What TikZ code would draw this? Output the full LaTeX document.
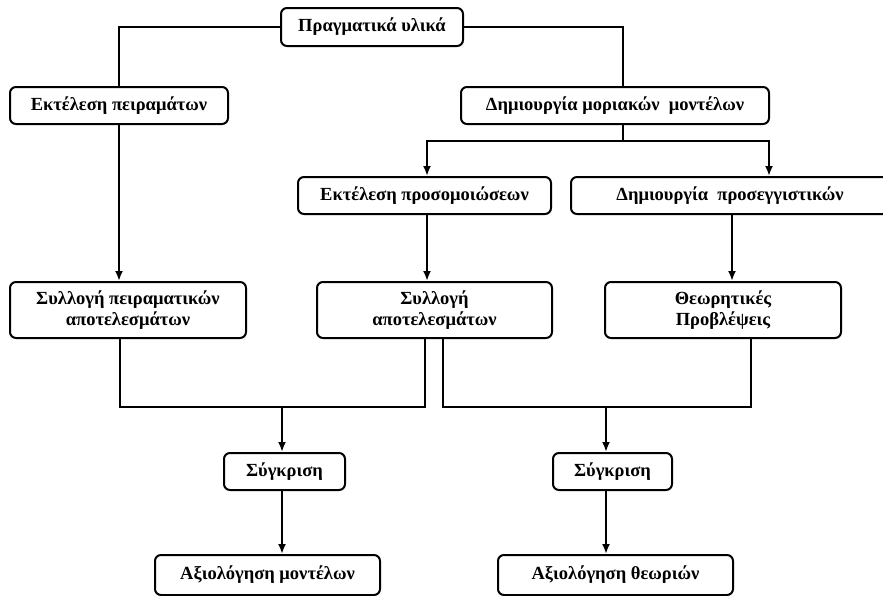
\documentclass[tikz,border=0pt]{standalone}
\usepackage{fontspec}
\setmainfont{Liberation Serif}
\usetikzlibrary{arrows.meta}
\begin{document}
\begin{tikzpicture}[x=1pt,y=-1pt,
  box/.style={draw,line width=2pt,rounded corners=6pt,align=center,inner sep=0pt,
    font=\fontsize{18.5}{21}\selectfont\bfseries},
  conn/.style={line width=2pt},
  arr/.style={line width=2pt,-{Latex[length=10pt,width=8pt]}}]
\useasboundingbox (0,0) rectangle (883,595);
\node[box,minimum width=182pt,minimum height=38pt] (prag) at (372,27) {Πραγματικά υλικά};
\node[box,minimum width=218pt,minimum height=37pt] (ekt) at (119,105.5) {Εκτέλεση πειραμάτων};
\node[box,minimum width=308pt,minimum height=37pt] (dim) at (615,105.5) {Δημιουργία μοριακών~ μοντέλων};
\node[box,minimum width=253pt,minimum height=37pt] (sim) at (424.5,195.5) {Εκτέλεση προσομοιώσεων};
\node[box,minimum width=318pt,minimum height=37pt] (prosegg) at (730,195.5) {Δημιουργία~ προσεγγιστικών};
\node[box,minimum width=236pt,minimum height=56pt] (syl1) at (128,310) {Συλλογή πειραματικών\\αποτελεσμάτων};
\node[box,minimum width=235pt,minimum height=56pt] (syl2) at (434.5,310) {Συλλογή\\αποτελεσμάτων};
\node[box,minimum width=236pt,minimum height=56pt] (theo) at (723,310) {Θεωρητικές\\Προβλέψεις};
\node[box,minimum width=121pt,minimum height=37pt] (syg1) at (284.5,471.5) {Σύγκριση};
\node[box,minimum width=119pt,minimum height=37pt] (syg2) at (612.5,471.5) {Σύγκριση};
\node[box,minimum width=225pt,minimum height=40pt] (ax1) at (267.5,575) {Αξιολόγηση μοντέλων};
\node[box,minimum width=235pt,minimum height=40pt] (ax2) at (615.5,575) {Αξιολόγηση θεωριών};
% top branches
\draw[conn] (prag.west) -| (ekt.north);
\draw[conn] (prag.east) -| ([xshift=8pt]dim.north);
\coordinate (split) at (623,141);
\draw[conn] ([xshift=8pt]dim.south) -- (split);
\draw[arr] (split) -| ([xshift=2.5pt]sim.north);
\draw[arr] (split) -| ([xshift=39pt]prosegg.north);
% verticals
\draw[arr] (ekt.south) -- (ekt.south |- syl1.north);
\draw[arr] ([xshift=2.5pt]sim.south) -- ([xshift=2.5pt]sim.south |- syl2.north);
\draw[arr] ([xshift=2pt]prosegg.south) -- ([xshift=2pt]prosegg.south |- theo.north);
% merges
\coordinate (m1) at (282,407);
\coordinate (m2) at (606,407);
\draw[conn] ([xshift=-8pt]syl1.south) |- (m1) -| ([xshift=-9.5pt]syl2.south);
\draw[arr] (m1) -- (m1 |- syg1.north);
\draw[conn] ([xshift=8.5pt]syl2.south) |- (m2) -| ([xshift=28pt]theo.south);
\draw[arr] (m2) -- (m2 |- syg2.north);
\draw[arr] (m1 |- syg1.south) -- (m1 |- ax1.north);
\draw[arr] (m2 |- syg2.south) -- (m2 |- ax2.north);
\end{tikzpicture}
\end{document}
